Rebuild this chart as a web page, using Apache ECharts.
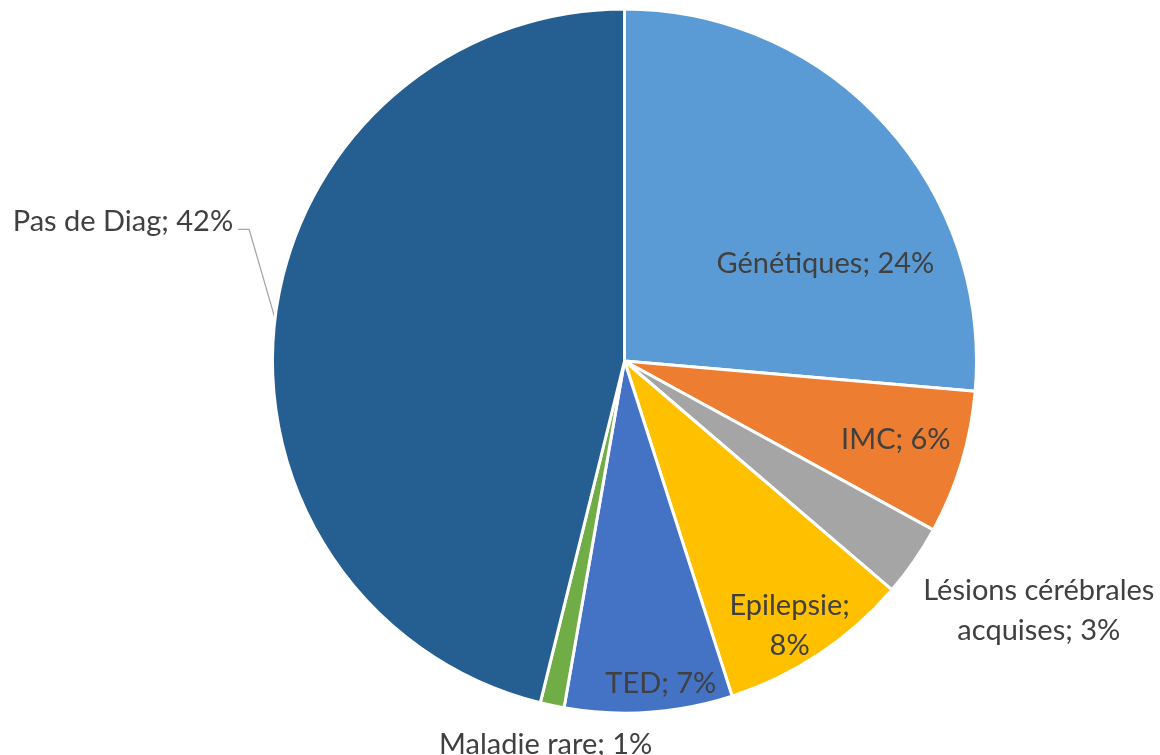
<!DOCTYPE html>
<html>
<head>
<meta charset="utf-8">
<script src="https://cdn.jsdelivr.net/npm/echarts@6/dist/echarts.min.js"></script>
<style>html,body{margin:0;padding:0;background:#fff}#c{width:1160px;height:755px}</style>
</head>
<body>
<div id="c"></div>
<script>
const categories = ['Génétiques', 'IMC', 'Lésions cérébrales\nacquises', 'Epilepsie', 'TED', 'Maladie rare', 'Pas de Diag'];
const values = [24, 6, 3, 8, 7, 1, 42];
const colors = ['#5B9BD5', '#ED7D31', '#A5A5A5', '#FFC000', '#4472C4', '#70AD47', '#255E91'];

// label offsets from the library's own label position (style only)
const labelShift = [[69, 24], [100, 27], [267, 148], [66, 116], [24, 144], [-42, 208], [-13, -96]];

const chart = echarts.init(document.getElementById('c'));
const data = categories.map((c, i) => {
  const item = { name: c, value: values[i], itemStyle: { color: colors[i] } };
  if (i === 6) {
    item.label = { position: 'outside' };
    item.labelLine = { show: true, length: 10, length2: 14, lineStyle: { color: '#A6A6A6', width: 1.3 } };
  } else {
    item.label = { position: 'inside' };
    item.labelLine = { show: false };
  }
  return item;
});
chart.setOption({
  animation: false,
  backgroundColor: '#fff',
  series: [{
    type: 'pie',
    center: [624.5, 361],
    radius: [0, 352],
    startAngle: 90,
    clockwise: true,
    avoidLabelOverlap: false,
    itemStyle: { borderColor: '#fff', borderWidth: 3 },
    label: {
      color: '#404040',
      fontFamily: 'Lato',
      fontSize: 29,
      lineHeight: 40,
      textBorderWidth: 0,
      align: 'center',
      formatter: p => {
        const name = p.dataIndex === 3 ? p.name + ';\n' : p.name + '; ';
        return name + p.value + '%';
      }
    },
    labelLayout: p => {
      const s = labelShift[p.dataIndex];
      const out = { dx: s[0], dy: s[1] };
      if (p.labelLinePoints) {
        const r = p.labelRect;
        const endX = r.x + r.width + s[0];
        const midY = r.y + r.height / 2 + s[1] + 8;
        out.labelLinePoints = [p.labelLinePoints[0], [endX + 16, midY], [endX + 5, midY]];
      }
      return out;
    },
    data: data
  }]
});
</script>
</body>
</html>
